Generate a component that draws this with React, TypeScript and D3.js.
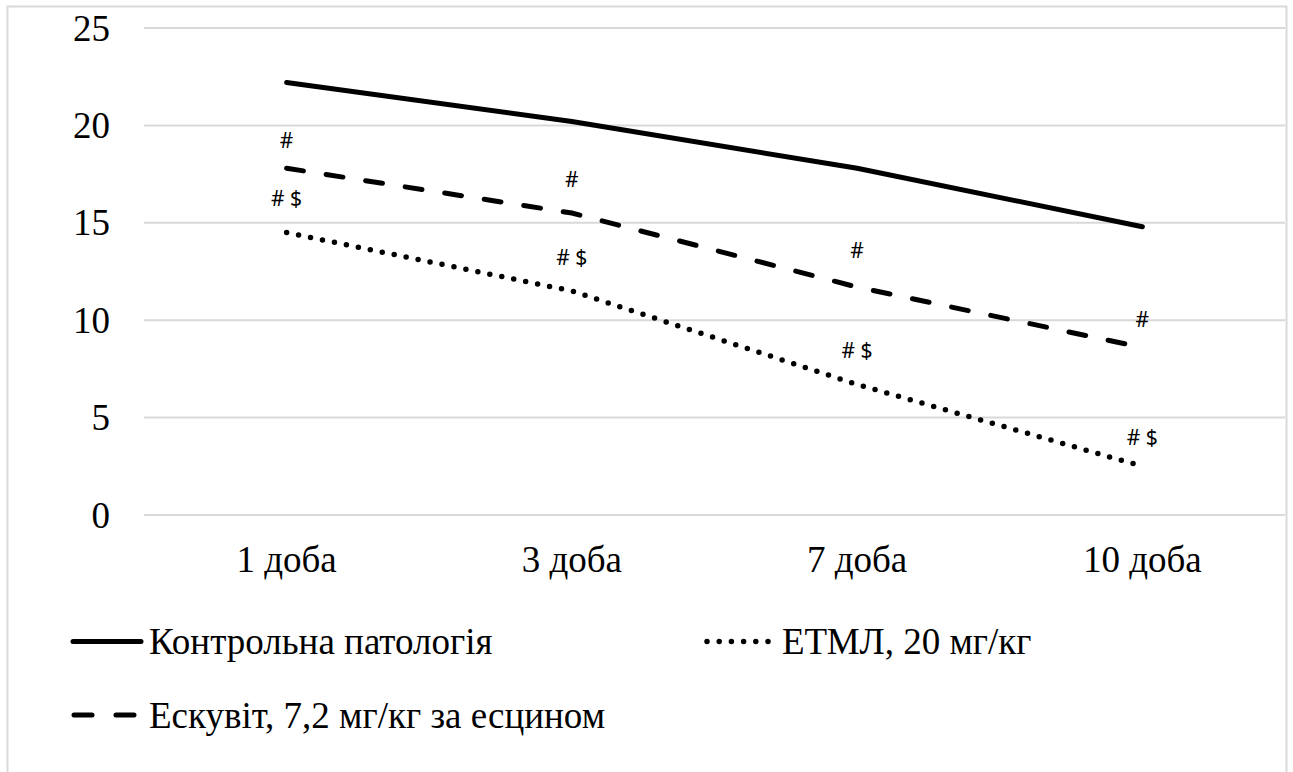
import React from 'react';
import * as d3 from 'd3';

// categories and series
const categories = ['1 доба', '3 доба', '7 доба', '10 доба'];
const controlValues = [22.2, 20.2, 17.8, 14.8];
const escuvitValues = [17.8, 15.5, 11.7, 8.6];
const etmlValues = [14.5, 11.5, 6.7, 2.5];
const yTicks = [0, 5, 10, 15, 20, 25];

// significance marks and the value height where each one sits
const escuvitMarks = ['#', '#', '#', '#'];
const escuvitMarkAt = [18.85, 16.85, 13.2, 9.65];
const etmlMarks = ['# $', '# $', '# $', '# $'];
const etmlMarkAt = [15.85, 12.85, 8.05, 3.6];

const seriesNames = ['Контрольна патологія', 'ЕТМЛ, 20 мг/кг', 'Ескувіт, 7,2 мг/кг за есцином'];

const W = 1293;
const H = 772;
const serif = "'Liberation Serif', 'DejaVu Serif', serif";
const sans = "'Noto Sans', 'Open Sans', sans-serif";

const App = () => {
  const x = d3.scaleBand<string>().domain(categories).range([144, 1285]);
  const y = d3.scaleLinear().domain([0, 25]).range([515, 28]);
  const cx = (c: string) => (x(c) ?? 0) + x.bandwidth() / 2;

  const line = d3
    .line<number>()
    .x((_, i) => cx(categories[i]))
    .y(d => y(d));

  const solid = { stroke: '#000', strokeWidth: 5, fill: 'none', strokeLinecap: 'round' as const };
  const dashed = { ...solid, strokeDasharray: '17 23' };
  const dotted = { ...solid, strokeWidth: 5.5, strokeDasharray: '0 12.2' };
  const serifText = { fontFamily: serif, fontSize: '37px' };

  return (
    <div style={{ position: 'absolute', left: 0, top: 0 }}>
      <svg width={W} height={H} style={{ display: 'block', background: '#fff' }}>
        {/* chart outline */}
        <rect x={7.5} y={6.5} width={1279} height={820} fill="none" stroke="#d9d9d9" strokeWidth={2} />

        {/* gridlines and y labels */}
        {yTicks.map(t => (
          <g key={t}>
            <line x1={144} x2={1285} y1={y(t)} y2={y(t)} stroke="#d9d9d9" strokeWidth={2} />
            <text x={110} y={y(t)} dy="0.34em" textAnchor="end" style={serifText}>
              {t}
            </text>
          </g>
        ))}

        {/* x labels */}
        {categories.map(c => (
          <text key={c} x={cx(c)} y={572} textAnchor="middle" style={serifText}>
            {c}
          </text>
        ))}

        <path d={line(controlValues) ?? ''} {...solid} />
        <path d={line(escuvitValues) ?? ''} {...dashed} />
        <path d={line(etmlValues) ?? ''} {...dotted} />

        {/* marks */}
        {categories.map((c, i) => (
          <g key={'m' + c} style={{ fontFamily: sans, fontSize: '21px' }} textAnchor="middle">
            <text x={cx(c)} y={y(escuvitMarkAt[i])}>{escuvitMarks[i]}</text>
            <text x={cx(c)} y={y(etmlMarkAt[i])}>{etmlMarks[i]}</text>
          </g>
        ))}

        {/* legend */}
        <g style={serifText}>
          <line x1={73} x2={141} y1={641.5} y2={641.5} {...solid} />
          <text x={149} y={654}>{seriesNames[0]}</text>

          <line x1={707} x2={769} y1={641.5} y2={641.5} {...dotted} />
          <text x={782} y={654}>{seriesNames[1]}</text>

          <line x1={74} x2={138} y1={715} y2={715} {...solid} strokeDasharray="18 24" />
          <text x={149} y={728}>{seriesNames[2]}</text>
        </g>
      </svg>
    </div>
  );
};

export default App;
